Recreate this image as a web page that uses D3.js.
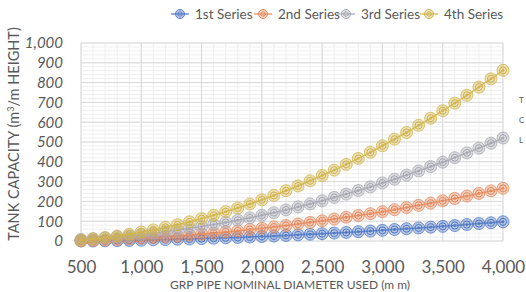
<!DOCTYPE html>
<html>
<head>
<meta charset="utf-8">
<script src="https://cdn.jsdelivr.net/npm/d3@7"></script>
<style>
  body { margin: 0; background: #fff; }
  svg text { font-family: Lato, "Open Sans", sans-serif; fill: #595959; }
</style>
</head>
<body>
<div id="chart"></div>
<script>
const diameters = d3.range(500, 4001, 100);
const seriesNames = ["1st Series", "2nd Series", "3rd Series", "4th Series"];
const seriesColors = ["#4f78c4", "#e58a5c", "#a8a8b4", "#d2b44a"];

const series1 = [0,0,1,2,3,4,6,7,9,10,12,14,16,18,20,23,25,28,31,34,37,40,43,47,50,54,58,62,66,70,74,78,83,88,92,97];
const series2 = [1,3,5,8,11,14,17,21,25,30,35,40,46,51,58,64,71,78,86,94,102,111,120,129,138,148,158,169,180,191,203,215,227,240,253,266];
const series3 = [8,12,16,21,26,33,39,47,55,64,73,83,94,105,117,130,143,157,172,187,203,220,237,255,273,293,312,333,354,376,398,421,445,469,494,520];
const series4 = [4,10,17,25,34,45,56,69,82,97,113,130,148,167,187,208,230,254,278,304,331,358,387,417,448,481,514,548,584,620,658,696,736,777,819,862];

const xTicks = [500, 1000, 1500, 2000, 2500, 3000, 3500, 4000];
const yTicks = [0, 100, 200, 300, 400, 500, 600, 700, 800, 900, 1000];

const allSeries = [series1, series2, series3, series4];

const W = 526, H = 292;
const svg = d3.select("#chart").append("svg").attr("width", W).attr("height", H);

const x = d3.scaleLinear().domain([500, 4000]).range([81, 503]);
const y = d3.scaleLinear().domain([0, 1000]).range([241, 43]);

// minor grid
const grid = svg.append("g");
grid.selectAll("line.mx").data(d3.range(500, 4001, 100)).enter().append("line")
  .attr("x1", d => x(d)).attr("x2", d => x(d)).attr("y1", y(1000)).attr("y2", y(0))
  .attr("stroke", "#efefef").attr("stroke-width", 1);
grid.selectAll("line.my").data(d3.range(0, 1001, 20)).enter().append("line")
  .attr("x1", x(500)).attr("x2", x(4000)).attr("y1", d => y(d)).attr("y2", d => y(d))
  .attr("stroke", "#efefef").attr("stroke-width", 1);
// major grid
grid.selectAll("line.Mx").data(xTicks).enter().append("line")
  .attr("x1", d => x(d)).attr("x2", d => x(d)).attr("y1", y(1000)).attr("y2", y(0))
  .attr("stroke", "#d9d9d9").attr("stroke-width", 1);
grid.selectAll("line.My").data(yTicks).enter().append("line")
  .attr("x1", x(500)).attr("x2", x(4000)).attr("y1", d => y(d)).attr("y2", d => y(d))
  .attr("stroke", "#d9d9d9").attr("stroke-width", 1);

// axes
const xAxis = svg.append("g").attr("transform", `translate(0,${y(0)})`)
  .call(d3.axisBottom(x).tickValues(xTicks).tickFormat(d3.format(",")).tickSize(0).tickPadding(20));
xAxis.select(".domain").remove();
xAxis.selectAll("text").attr("font-size", 17).attr("fill", "#595959");

const yAxis = svg.append("g").attr("transform", `translate(${x(500)},0)`)
  .call(d3.axisLeft(y).tickValues(yTicks).tickFormat(d3.format(",")).tickSize(0).tickPadding(18));
yAxis.select(".domain").remove();
yAxis.selectAll("text").attr("font-size", 15).attr("font-style", "italic").attr("fill", "#595959");

// series
const line = d3.line().x((d, i) => x(diameters[i])).y(d => y(d));
allSeries.forEach((s, k) => {
  const c = seriesColors[k];
  const g = svg.append("g");
  g.append("path").datum(s).attr("d", line).attr("fill", "none")
    .attr("stroke", c).attr("stroke-width", 1.5).attr("opacity", 0.8);
  const m = g.selectAll("g.m").data(s).enter().append("g")
    .attr("transform", (d, i) => `translate(${x(diameters[i])},${y(d)})`);
  m.append("circle").attr("r", 6).attr("fill", c).attr("fill-opacity", 0.4)
    .attr("stroke", c).attr("stroke-opacity", 0.75).attr("stroke-width", 1);
  m.append("circle").attr("r", 3.5).attr("fill", "none")
    .attr("stroke", c).attr("stroke-width", 1);
  m.append("circle").attr("r", 1.4).attr("fill", c);
});

// legend
const legendX = [180, 263, 346, 429];
seriesNames.forEach((n, k) => {
  const c = seriesColors[k];
  const g = svg.append("g").attr("transform", `translate(${legendX[k]},14)`);
  g.append("line").attr("x1", -9).attr("x2", 9).attr("stroke", c).attr("stroke-width", 1.5).attr("opacity", 0.8);
  g.append("circle").attr("r", 4.5).attr("fill", c).attr("fill-opacity", 0.35).attr("stroke", c).attr("stroke-width", 1);
  g.append("circle").attr("r", 2.2).attr("fill", "none").attr("stroke", c).attr("stroke-width", 1);
  g.append("text").attr("x", 15).attr("y", 5).attr("font-size", 13.5).text(n);
});

// axis titles
svg.append("text").attr("transform", "translate(19,134) rotate(-90)")
  .attr("text-anchor", "middle").attr("font-size", 14.5)
  .html('TANK CAPACITY (m<tspan baseline-shift="super" font-size="9">3</tspan>/m HEIGHT)');
svg.append("text").attr("x", 290).attr("y", 289).attr("text-anchor", "middle")
  .attr("font-size", 12).text("GRP PIPE NOMINAL DIAMETER USED (m m)");

// clipped side text
["T", "C", "L"].forEach((t, i) => {
  svg.append("text").attr("x", 519).attr("y", 103 + i * 20).attr("font-size", 8).attr("fill", "#404040").text(t);
});
</script>
</body>
</html>
